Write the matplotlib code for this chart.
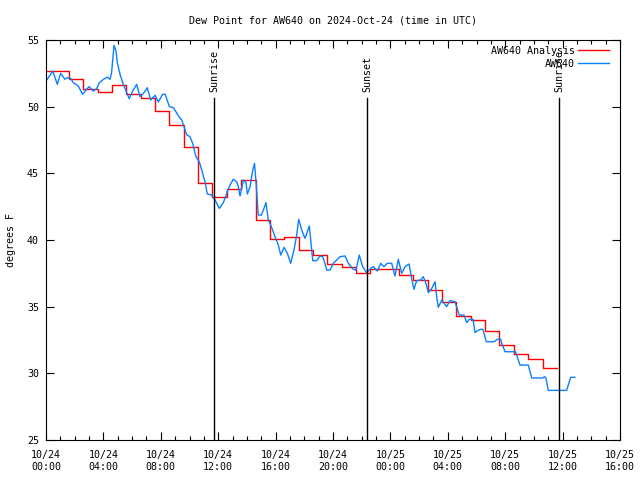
import numpy as np
import matplotlib
matplotlib.use("Agg")
import matplotlib.pyplot as plt
import matplotlib.transforms as mtransforms

# ---- data (hours since 2024-10-24 00:00 UTC) ----
analysis_hours = list(range(0, 36))
analysis_vals = [52.65, 52.65, 52.05, 51.3, 51.1, 51.6, 50.93, 50.65, 49.65, 48.6,
                 46.95, 44.25, 43.25, 43.8, 44.47, 41.5, 40.1, 40.2, 39.25, 38.85,
                 38.2, 38.0, 37.5, 37.85, 37.85, 37.35, 36.97, 36.22, 35.35, 34.27,
                 34.0, 33.17, 32.1, 31.42, 31.05, 30.37]
analysis_end = 35.6

obs_hours = [0.05, 0.47, 0.79, 1.02, 1.32, 1.48, 1.72, 1.9, 2.25, 2.55, 2.83, 3.0, 3.3, 3.53,
             3.72, 4.0, 4.28, 4.46, 4.57, 4.74, 4.88, 4.97, 5.16, 5.39, 5.58, 5.8, 6.04, 6.32,
             6.55, 6.83, 7.06, 7.3, 7.6, 7.83, 8.13, 8.3, 8.6, 8.87, 9.3, 9.46, 9.8, 10.03,
             10.22, 10.45, 10.68, 10.85, 11.08, 11.24, 11.55, 11.78, 12.08, 12.36, 12.63,
             12.82, 13.05, 13.29, 13.4, 13.52, 13.64, 13.75, 13.94, 14.03, 14.22, 14.4,
             14.53, 14.66, 14.79, 15.01, 15.19, 15.33, 15.49, 15.66, 15.96, 16.19, 16.36,
             16.59, 16.82, 17.05, 17.28, 17.47, 17.61, 17.82, 18.05, 18.21, 18.35, 18.47,
             18.59, 18.86, 19.09, 19.28, 19.44, 19.56, 19.79, 20.02, 20.21, 20.49, 20.84,
             21.07, 21.41, 21.6, 21.83, 22.07, 22.35, 22.63, 22.82, 23.09, 23.32, 23.55,
             23.78, 24.09, 24.32, 24.55, 24.79, 25.02, 25.3, 25.48, 25.64, 25.83, 26.11,
             26.29, 26.48, 26.64, 26.88, 27.11, 27.23, 27.34, 27.58, 27.92, 28.15, 28.5,
             28.8, 29.13, 29.32, 29.5, 29.76, 29.9, 30.06, 30.29, 30.45, 30.68, 31.22,
             31.45, 31.69, 31.76, 31.99, 32.72, 33.03, 33.61, 33.85, 34.61, 34.74, 34.84,
             35.0, 36.28, 36.56, 36.86]
obs_vals = [52.0, 52.68, 51.67, 52.5, 52.05, 52.17, 52.12, 51.8, 51.55, 50.93, 51.3, 51.5,
            51.17, 51.35, 51.8, 52.05, 52.22, 52.05, 52.55, 54.6, 54.17, 53.3, 52.42, 51.67,
            51.17, 50.6, 51.17, 51.67, 50.75, 51.05, 51.42, 50.5, 50.85, 50.35, 50.93, 50.93,
            50.0, 49.93, 49.2, 49.0, 47.9, 47.75, 47.25, 46.25, 45.87, 45.25, 44.37, 43.45,
            43.37, 43.0, 42.37, 42.8, 43.62, 44.12, 44.55, 44.37, 44.0, 43.3, 43.87, 44.5,
            44.3, 43.45, 44.0, 45.2, 45.75, 44.0, 41.87, 41.87, 42.37, 42.8, 41.5, 41.12,
            40.25, 39.62, 38.87, 39.45, 39.0, 38.25, 39.25, 40.37, 41.55, 40.75, 40.12,
            40.62, 41.05, 39.75, 38.45, 38.45, 38.8, 38.75, 38.25, 37.75, 37.75, 38.25,
            38.45, 38.75, 38.8, 38.25, 37.8, 37.75, 38.87, 38.0, 37.55, 37.87, 38.0, 37.67,
            38.25, 38.0, 38.25, 38.25, 37.3, 38.55, 37.5, 38.0, 38.2, 37.12, 36.3, 36.95,
            37.0, 37.25, 36.75, 36.05, 36.37, 36.87, 35.7, 34.95, 35.5, 35.0, 35.45, 35.37,
            34.37, 34.37, 33.8, 34.05, 34.05, 33.05, 33.2, 33.3, 33.3, 32.37, 32.37, 32.55,
            32.55, 32.25, 31.62, 31.62, 30.62, 30.62, 29.65, 29.65, 29.75, 29.65, 28.72,
            28.72, 29.7, 29.7]

sun_events = ["Sunrise", "Sunset", "Sunrise"]
sun_hours = [11.71, 22.37, 35.75]

xtick_hours = list(range(0, 41, 4))
xtick_labels = ["10/24\n00:00", "10/24\n04:00", "10/24\n08:00", "10/24\n12:00",
                "10/24\n16:00", "10/24\n20:00", "10/25\n00:00", "10/25\n04:00",
                "10/25\n08:00", "10/25\n12:00", "10/25\n16:00"]
yticks = [25, 30, 35, 40, 45, 50, 55]

title = "Dew Point for AW640 on 2024-Oct-24 (time in UTC)"
ylabel = "degrees F"

# ---- plot ----
plt.rcParams['font.family'] = ['DejaVu Sans Mono']
fs = 7.2
fig = plt.figure(figsize=(6.4, 4.8), dpi=100)
ax = fig.add_axes([46/640, 40/480, 574/640, 400/480])

# analysis as step function; transitions ~0.6 h after each hour
edges = [analysis_hours[0]] + [h - 0.4 for h in analysis_hours[1:]] + [analysis_end]
sx = []
sy = []
for i, v in enumerate(analysis_vals):
    sx += [edges[i], edges[i + 1]]
    sy += [v, v]
ax.plot(sx, sy, color='#ff0000', lw=1.0, label='AW640 Analysis')
ax.plot(obs_hours, obs_vals, color='#0a80ff', lw=1.0, label='AW640')

trans = mtransforms.blended_transform_factory(ax.transData, ax.transAxes)
for name, h in zip(sun_events, sun_hours):
    ax.plot([h, h], [0, 0.855], color='black', lw=1.0, transform=trans)
    ax.text(h + 0.05, 0.87, name, rotation=90, ha='center', va='bottom',
            fontsize=fs, transform=trans)

ax.set_xlim(0, 40)
ax.set_ylim(25, 55)
ax.set_xticks(xtick_hours)
ax.set_xticklabels(xtick_labels, fontsize=fs, linespacing=1.3)
ax.set_xticks(range(0, 41), minor=True)
ax.set_yticks(yticks)
ax.set_yticklabels([str(t) for t in yticks], fontsize=fs)
ax.tick_params(which='both', direction='in', top=True, right=True, width=0.8)
ax.tick_params(which='major', length=6)
ax.tick_params(axis='x', which='major', pad=7)
ax.tick_params(axis='y', which='major', pad=5)
ax.tick_params(which='minor', length=3)
for s in ax.spines.values():
    s.set_linewidth(0.8)

ax.set_title(title, fontsize=fs, pad=12)
ax.set_ylabel(ylabel, fontsize=fs, labelpad=8)

leg = ax.legend(loc='upper right', bbox_to_anchor=(1 - 5/574, 1.0),
                frameon=False, markerfirst=False, fontsize=fs,
                handlelength=3.1, handletextpad=0.3, labelspacing=0.3,
                borderaxespad=0.5, borderpad=0.1)

fig.savefig('out.png', dpi=100)
